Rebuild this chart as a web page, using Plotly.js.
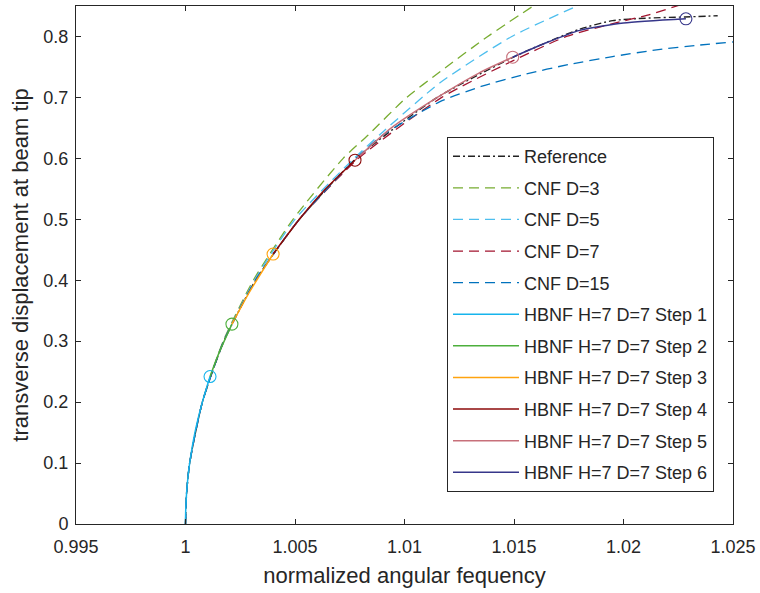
<!DOCTYPE html>
<html>
<head>
<meta charset="utf-8">
<script src="https://cdn.plot.ly/plotly-3.0.1.min.js"></script>
<style>html,body{margin:0;padding:0;background:#fff;}#chart{width:760px;height:593px;}</style>
</head>
<body>
<div id="chart"></div>
<script>
// Reference curve
var refX = [1.0, 1.000048, 1.00019, 1.00077, 1.00175, 1.0032, 1.0052, 1.0078, 1.0115, 1.0152, 1.0180, 1.0195, 1.0210, 1.0228, 1.0243];
var refY = [0.0, 0.05, 0.1, 0.2, 0.3, 0.4, 0.5, 0.6, 0.7, 0.77, 0.812, 0.826, 0.830, 0.832, 0.834];

// CNF curves
var cnf3X = [1.0, 1.000048, 1.00019, 1.00077, 1.00172, 1.0031, 1.00491, 1.0072, 1.00833, 1.0101, 1.01162, 1.0138, 1.01596];
var cnf3Y = [0.0, 0.05, 0.1, 0.2, 0.3, 0.4, 0.5, 0.6, 0.638, 0.7, 0.742, 0.8, 0.852];

var cnf5X = [1.0, 1.000048, 1.00019, 1.00077, 1.00174, 1.00315, 1.0050, 1.0077, 1.0090, 1.01162, 1.0149, 1.01801];
var cnf5Y = [0.0, 0.05, 0.1, 0.2, 0.3, 0.4, 0.5, 0.6, 0.643, 0.724, 0.8, 0.852];

var cnf7X = [1.0, 1.000048, 1.00019, 1.00077, 1.00175, 1.0032, 1.0052, 1.0079, 1.0117, 1.01494, 1.0174, 1.0196, 1.0211, 1.0226];
var cnf7Y = [0.0, 0.05, 0.1, 0.2, 0.3, 0.4, 0.5, 0.6, 0.7, 0.76, 0.8, 0.822, 0.835, 0.852];

var cnf15X = [1.0, 1.000048, 1.00019, 1.00077, 1.00175, 1.0032, 1.0052, 1.0078, 1.0090, 1.01162, 1.0135, 1.0155, 1.0175, 1.0195, 1.0215, 1.0235, 1.025];
var cnf15Y = [0.0, 0.05, 0.1, 0.2, 0.3, 0.4, 0.5, 0.6, 0.638, 0.693, 0.718, 0.738, 0.754, 0.767, 0.778, 0.786, 0.791];

// HBNF steps
var s1X = [1.0, 1.000008, 1.000048, 1.00012, 1.00019, 1.00043, 1.00077, 1.00112];
var s1Y = [0.0, 0.02, 0.05, 0.08, 0.1, 0.15, 0.2, 0.242];
var s2X = [1.00112, 1.00152, 1.00212];
var s2Y = [0.242, 0.28, 0.328];
var s3X = [1.00212, 1.00291, 1.0040];
var s3Y = [0.328, 0.38, 0.443];
var s4X = [1.0040, 1.0052, 1.0064, 1.00774];
var s4Y = [0.443, 0.5, 0.55, 0.597];
var s5X = [1.00774, 1.0094, 1.0115, 1.0134, 1.01494];
var s5Y = [0.597, 0.65, 0.70, 0.74, 0.766];
var s6X = [1.01494, 1.0165, 1.0180, 1.0200, 1.02285];
var s6Y = [0.766, 0.79, 0.81, 0.822, 0.829];

var xTicks = [0.995, 1, 1.005, 1.01, 1.015, 1.02, 1.025];
var xTickText = ['0.995', '1', '1.005', '1.01', '1.015', '1.02', '1.025'];
var yTicks = [0, 0.1, 0.2, 0.3, 0.4, 0.5, 0.6, 0.7, 0.8];
var yTickText = ['0', '0.1', '0.2', '0.3', '0.4', '0.5', '0.6', '0.7', '0.8'];

var FONT = 'Liberation Sans, Arial, sans-serif';
var dashed = '10px,6px';
var traces = [];
var gi = 0;
function line(x, y, name, color, dash, width) {
  gi++;
  traces.push({x: x, y: y, name: name, mode: 'lines', type: 'scatter', legendgroup: 'g' + gi,
    line: {color: color, dash: dash, width: width, shape: 'spline', smoothing: 0.6}});
}
line(refX, refY, 'Reference', '#222222', '7px,3px,2px,3px', 1.4);
line(cnf3X, cnf3Y, 'CNF D=3', '#77AC30', dashed, 1.3);
line(cnf5X, cnf5Y, 'CNF D=5', '#4DBEEE', dashed, 1.3);
line(cnf7X, cnf7Y, 'CNF D=7', '#A2142F', dashed, 1.3);
line(cnf15X, cnf15Y, 'CNF D=15', '#0072BD', dashed, 1.3);

var steps = [
  [s1X, s1Y, '#16B4EC'], [s2X, s2Y, '#4DAF3C'], [s3X, s3Y, '#FFA30F'],
  [s4X, s4Y, '#8C0A0A'], [s5X, s5Y, '#C7707A'], [s6X, s6Y, '#36368A']
];
steps.forEach(function (s, i) {
  line(s[0], s[1], 'HBNF H=7 D=7 Step ' + (i + 1), s[2], 'solid', 1.5);
});
steps.forEach(function (s) {
  var n = s[0].length - 1;
  traces.push({x: [s[0][n]], y: [s[1][n]], mode: 'markers', type: 'scatter', showlegend: false,
    marker: {symbol: 'circle-open', size: 12, color: s[2], line: {width: 1.1, color: s[2]}}});
});

var axisCommon = {
  showgrid: false, zeroline: false, showline: true, mirror: 'allticks',
  linecolor: '#262626', linewidth: 1, ticks: 'inside', ticklen: 5, tickcolor: '#262626',
  tickfont: {family: FONT, size: 18, color: '#262626'}
};
var layout = {
  width: 760, height: 593,
  margin: {l: 76, r: 27, t: 6, b: 69},
  paper_bgcolor: '#ffffff', plot_bgcolor: '#ffffff',
  showlegend: true,
  xaxis: Object.assign({}, axisCommon, {
    range: [0.995, 1.025], tickvals: xTicks, ticktext: xTickText, ticklabelstandoff: 6,
    title: {text: 'normalized angular fequency', font: {family: FONT, size: 22, color: '#262626'}, standoff: 12}
  }),
  yaxis: Object.assign({}, axisCommon, {
    range: [0, 0.85], tickvals: yTicks, ticktext: yTickText, ticklabelstandoff: 3,
    title: {text: 'transverse displacement at beam tip', font: {family: FONT, size: 22, color: '#262626'}, standoff: 8}
  }),
  legend: {
    x: 0.5647, y: 0.747, xanchor: 'left', yanchor: 'top',
    bgcolor: '#ffffff', bordercolor: '#262626', borderwidth: 1,
    font: {family: FONT, size: 18, color: '#262626'},
    traceorder: 'grouped', tracegroupgap: 5.2, itemwidth: 66
  }
};
Plotly.newPlot('chart', traces, layout, {staticPlot: true, displayModeBar: false});
</script>
</body>
</html>
